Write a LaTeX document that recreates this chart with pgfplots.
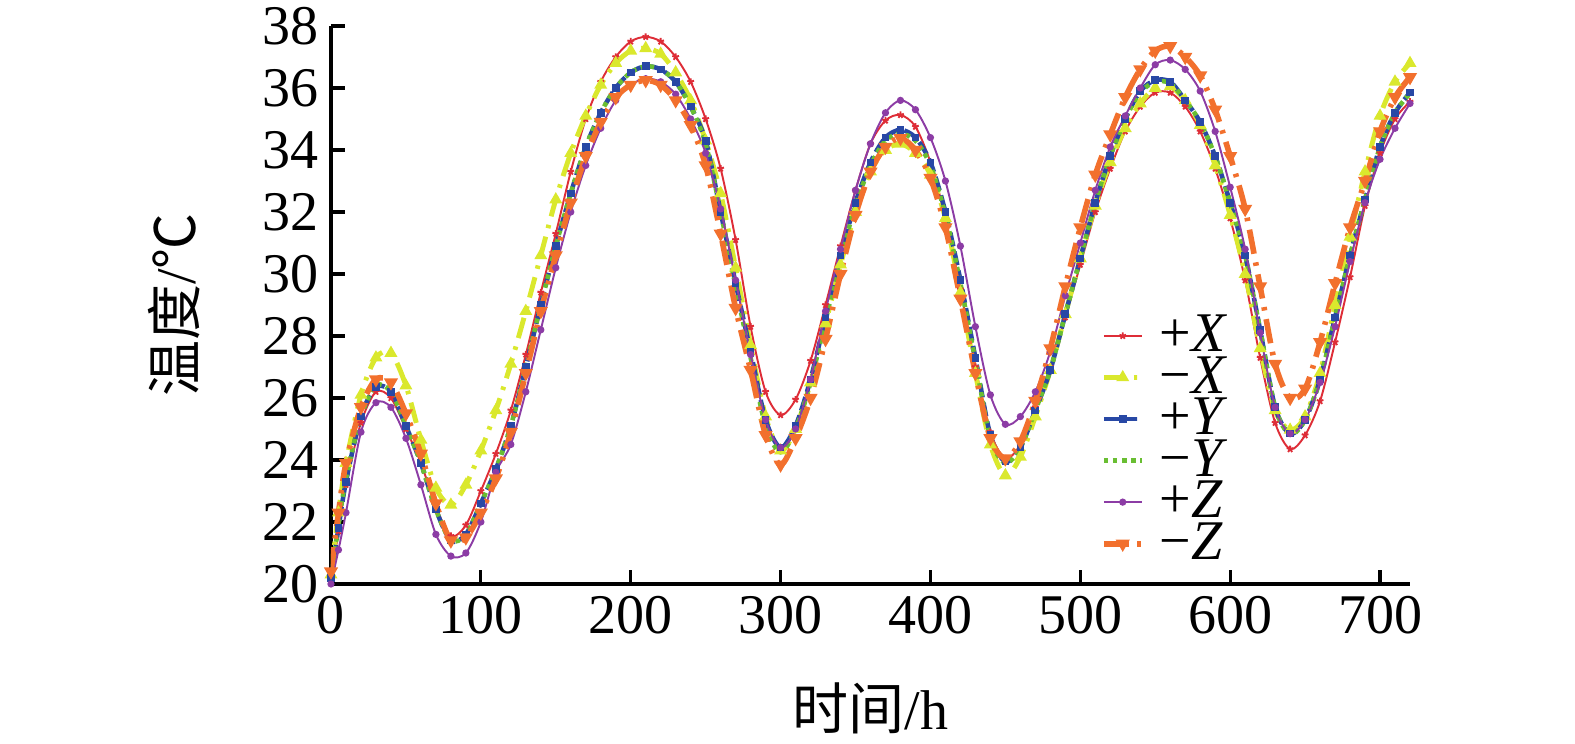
\documentclass[border=0pt]{standalone}
\usepackage{pgfplots}
\pgfplotsset{compat=1.18}
\usepackage{pgfplotstable}
\usepackage{fontspec}
\setmainfont{Liberation Serif}
\newfontfamily\cjk{Noto Sans CJK SC}
\definecolor{cR}{RGB}{222,45,55}
\definecolor{cY}{RGB}{218,232,45}
\definecolor{cB}{RGB}{40,72,165}
\definecolor{cG}{RGB}{105,190,50}
\definecolor{cP}{RGB}{140,60,165}
\definecolor{cO}{RGB}{242,112,45}
\pgfplotstableread{
x   r     yy    b     g     p     o
0   20.1  20.3  20.2  20.2  20.0  20.4
5   21.7  22.3  21.8  21.9  21.1  22.3
10  23.2  23.9  23.3  23.4  22.3  23.9
20  25.2  26.1  25.4  25.4  24.9  25.7
30  26.2  27.3  26.35 26.4  25.85 26.6
40  26.0  27.45 26.2  26.2  25.7  26.5
50  25.0  26.4  25.1  25.1  24.7  25.5
60  23.9  24.65 23.9  23.9  23.2  24.2
70  22.5  23.1  22.4  22.4  21.6  22.6
80  21.55 22.55 21.4  21.4  20.9  21.4
90  21.9  23.2  21.6  21.6  21.0  21.5
100 23.0  24.3  22.6  22.6  22.0  22.3
110 24.2  25.6  23.7  23.7  23.6  23.4
120 25.6  27.1  25.1  25.1  24.5  24.9
130 27.4  28.8  27.0  27.0  26.2  26.8
140 29.4  30.6  29.0  29.0  28.2  28.8
150 31.3  32.4  30.9  30.9  30.2  30.6
160 33.3  33.9  32.6  32.6  32.0  32.3
170 35.0  35.1  34.1  34.1  33.5  33.8
180 36.2  36.1  35.2  35.2  34.7  34.9
190 37.0  36.8  36.0  36.0  35.6  35.7
200 37.5  37.2  36.5  36.5  36.1  36.1
210 37.65 37.28 36.7  36.7  36.3  36.25
220 37.5  37.1  36.6  36.6  36.2  36.1
230 37.0  36.5  36.2  36.2  35.8  35.6
240 36.2  35.6  35.4  35.4  35.0  34.8
250 35.0  34.3  34.3  34.2  33.9  33.5
260 33.4  32.6  32.0  32.0  32.1  31.3
270 31.1  30.2  29.7  29.6  29.8  28.9
280 28.3  27.7  27.5  27.3  27.4  26.9
290 26.2  25.4  25.3  25.1  25.3  24.8
300 25.45 24.3  24.4  24.25 24.4  23.85
310 25.95 25.0  25.1  25.0  25.0  24.7
320 27.2  26.5  26.6  26.5  26.6  26.0
330 29.0  28.4  28.6  28.5  28.8  27.9
340 30.9  30.3  30.6  30.5  30.8  30.0
350 32.7  32.0  32.3  32.2  32.7  31.9
360 34.2  33.3  33.6  33.5  34.2  33.3
370 34.95 34.0  34.4  34.3  35.2  34.1
380 35.13 34.2  34.65 34.52 35.6  34.38
390 34.75 33.9  34.4  34.3  35.3  34.0
400 33.6  33.2  33.6  33.5  34.4  33.1
410 31.8  31.8  32.0  31.9  33.0  31.5
420 29.5  29.4  29.8  29.7  30.9  29.2
430 27.0  26.8  27.3  27.2  28.3  26.8
440 24.9  24.5  24.8  24.7  26.1  24.7
450 24.05 23.5  23.95 23.9  25.15 24.05
460 24.5  24.1  24.4  24.4  25.4  24.6
470 25.7  25.4  25.6  25.6  26.2  25.9
480 27.0  26.9  26.9  26.9  27.5  27.6
490 28.6  28.7  28.7  28.7  29.3  29.6
500 30.3  30.5  30.5  30.5  31.0  31.5
510 32.0  32.2  32.3  32.3  32.7  33.2
520 33.4  33.6  33.8  33.8  34.1  34.5
530 34.6  34.7  35.0  35.0  35.1  35.7
540 35.4  35.5  35.9  35.85 36.0  36.6
550 35.85 36.0  36.25 36.2  36.75 37.2
560 35.85 36.05 36.2  36.15 36.9  37.35
570 35.4  35.6  35.6  35.6  36.6  37.0
580 34.6  34.8  34.9  34.9  35.9  36.4
590 33.4  33.5  33.8  33.8  34.6  35.3
600 31.8  31.9  32.3  32.3  32.8  33.8
610 29.8  30.0  30.6  30.6  30.8  32.1
620 27.3  27.6  28.2  28.2  28.1  29.6
630 25.2  25.6  25.7  25.7  25.7  27.1
640 24.35 24.97 24.85 24.82 24.85 26.0
650 24.8  25.4  25.3  25.3  25.3  26.3
660 25.9  26.8  26.6  26.6  26.5  27.8
670 27.8  29.0  28.6  28.6  28.3  29.7
680 29.9  31.2  30.6  30.6  30.4  31.5
690 32.2  33.3  32.4  32.4  32.3  33.0
700 33.9  35.1  34.1  34.1  33.7  34.6
710 35.0  36.2  35.2  35.2  34.7  35.7
720 35.56 36.8  35.85 35.83 35.5  36.35
}\data
\begin{document}
\begin{tikzpicture}
\begin{axis}[
  scale only axis, width=308.29pt, height=159.43pt,
  xmin=0, xmax=720, ymin=20, ymax=38,
  xtick={0,100,...,700}, ytick={20,22,...,38},
  axis x line=bottom, axis y line=left,
  axis line style={-, line width=0.9pt, black},
  tick align=inside, major tick length=4pt,
  tick style={line width=0.9pt, black},
  ticklabel style={font=\fontsize{16}{16}\selectfont},
  /pgf/number format/assume math mode=true,
  xlabel={{\cjk 时间}/h},
  ylabel={{\cjk 温度}/{\cjk ℃}},
  label style={font=\fontsize{16}{16}\selectfont, inner sep=0pt},
  xlabel style={at={(axis description cs:0.5,-0.1757)}, anchor=north},
  ylabel style={at={(axis description cs:-0.121,0.5)}, anchor=south},
  legend style={at={(axis description cs:0.713,0.486)}, anchor=north west,
    draw=none, fill=none, inner sep=0pt, row sep=-0.9pt,
    font=\fontsize{16}{16}\selectfont,
    nodes={inner sep=0.4pt}, column sep=4pt},
  legend cell align=left,
  legend image code/.code={\draw[mark repeat=2,mark phase=2,#1] plot coordinates {(0cm,0cm) (0.19cm,0cm) (0.38cm,0cm)};},
]
\addplot[cR, line width=0.55pt, mark=star, mark size=1.0pt, smooth] table[x=x,y=r]{\data};
\addplot[cY, line width=1.4pt, dash pattern=on 6pt off 2.5pt on 1pt off 2.5pt, mark=triangle*, mark size=0.75pt, mark options={solid}, smooth] table[x=x,y=yy]{\data};
\addplot[cB, line width=1.3pt, dash pattern=on 4pt off 1.5pt, mark=square*, mark size=0.45pt, mark options={solid}, smooth] table[x=x,y=b]{\data};
\addplot[cG, line width=1.3pt, dash pattern=on 1.3pt off 1.3pt, smooth] table[x=x,y=g]{\data};
\addplot[cP, line width=0.55pt, mark=*, mark size=0.75pt, smooth] table[x=x,y=p]{\data};
\addplot[cO, line width=1.6pt, dash pattern=on 7pt off 2.5pt on 1pt off 2.5pt, mark=triangle*, mark size=0.75pt, mark options={solid, rotate=180}, smooth] table[x=x,y=o]{\data};
\legend{+\textit{X}, −\textit{X}, +\textit{Y}, −\textit{Y}, +\textit{Z}, −\textit{Z}}
\coordinate (O) at (rel axis cs:0,0);
\coordinate (T) at (rel axis cs:1,1);
\end{axis}
\pgfresetboundingbox
\path ([xshift=-94.57pt,yshift=-45.71pt]O) rectangle ([xshift=47.14pt,yshift=7.43pt]T);
\end{tikzpicture}
\end{document}
